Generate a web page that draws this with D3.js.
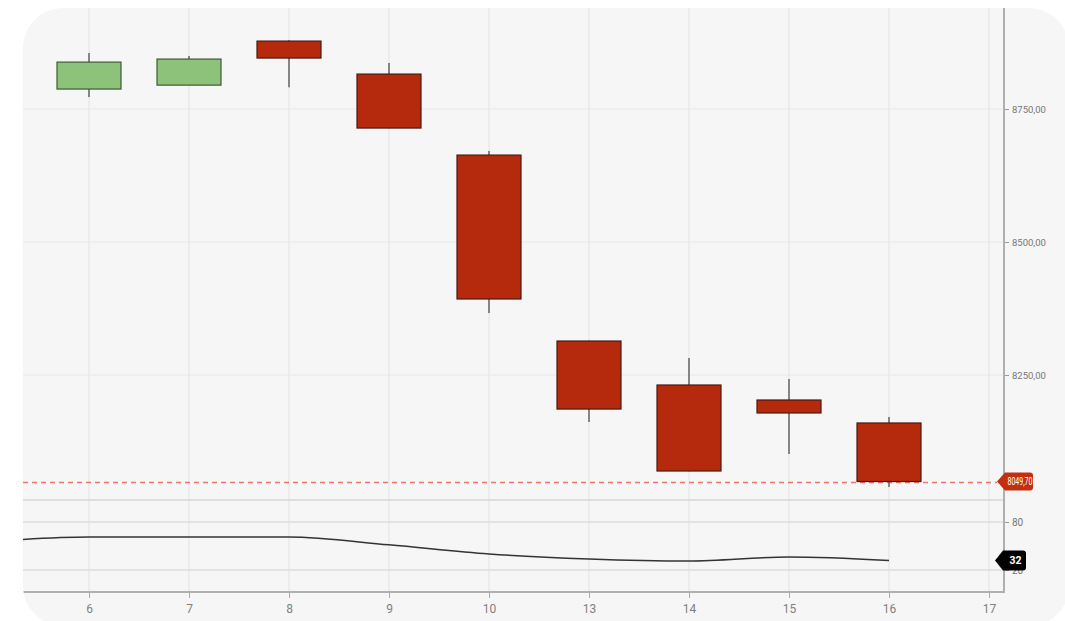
<!DOCTYPE html>
<html><head><meta charset="utf-8">
<script src="https://cdn.jsdelivr.net/npm/d3@7"></script>
<style>html,body{margin:0;padding:0;background:#fff;}svg{display:block;font-family:Roboto,"Noto Sans",sans-serif;}</style>
</head><body><svg id="c" width="1065" height="621"></svg>
<script>
// ---- data ----
const categories = ["6","7","8","9","10","13","14","15","16","17"];
const opens  = [8787.6, 8795.0, 8877.8, 8815.8, 8663.5, 8313.9, 8231.2, 8203.0, 8159.8];
const highs  = [8855.3, 8849.6, 8879.5, 8836.5, 8671.0, 8314.5, 8282.0, 8242.5, 8171.0];
const lows   = [8772.6, 8795.0, 8791.0, 8714.0, 8366.5, 8161.7, 8069.0, 8101.5, 8039.5];
const closes = [8838.3, 8844.0, 8845.9, 8714.3, 8392.9, 8186.0, 8069.5, 8178.6, 8049.7];
const priceTicks = [8250, 8500, 8750];
const indicatorPrior = 55.5;           // value of the session before "6"
const indicator = [61.2, 61.2, 61.2, 51.5, 40.0, 33.8, 31.3, 36.3, 32.0];
const indicatorTicks = [20, 80];

// ---- layout ----
const padL = 23, padR = 1004, padT = 8, mainBottom = 500, subBottom = 592;
const svg = d3.select("#c");

const x = d3.scaleLinear().domain([-0.66, 9.15]).range([padL, padR]);
const y = d3.scaleLinear().domain([8015, 8940]).range([mainBottom, padT]);
const yi = d3.scaleLinear().domain([-7.5, 107.5]).range([subBottom, mainBottom]);

const fmt = v => d3.format(".2f")(v).replace(".", ",");

// card
svg.append("defs").append("clipPath").attr("id","card")
  .append("rect").attr("x",padL).attr("y",padT).attr("width",1046).attr("height",618).attr("rx",40);
svg.append("rect").attr("x",padL).attr("y",padT).attr("width",1046).attr("height",618).attr("rx",40).attr("fill","#f6f6f6");

const g = svg.append("g").attr("clip-path","url(#card)");

// vertical grid
g.selectAll(".vg").data(categories).join("line")
  .attr("x1",(d,i)=>x(i)).attr("x2",(d,i)=>x(i)).attr("y1",padT).attr("y2",subBottom)
  .attr("stroke","#e3e3e3").attr("stroke-width",1);

// horizontal grid main
g.selectAll(".hg").data(priceTicks).join("line")
  .attr("x1",padL).attr("x2",padR).attr("y1",d=>y(d)).attr("y2",d=>y(d))
  .attr("stroke","#e8e8e8").attr("stroke-width",1);

// panel separator
g.append("line").attr("x1",padL).attr("x2",padR).attr("y1",mainBottom).attr("y2",mainBottom)
  .attr("stroke","#d6d6d6").attr("stroke-width",1.5);

// indicator grid
g.selectAll(".ig").data(indicatorTicks).join("line")
  .attr("x1",padL).attr("x2",padR).attr("y1",d=>yi(d)).attr("y2",d=>yi(d))
  .attr("stroke","#dcdcdc").attr("stroke-width",1.5);

// dashed last-price line
const last = closes[closes.length-1];
g.append("line").attr("x1",padL).attr("x2",997).attr("y1",Math.round(y(last))+0.5).attr("y2",Math.round(y(last))+0.5)
  .attr("stroke","#ec7468").attr("stroke-width",1.3).attr("stroke-dasharray","5,4");

// candles
const candles = opens.map((o,i)=>({i,o,h:highs[i],l:lows[i],c:closes[i]}));
const bw = 64;
g.selectAll(".wick").data(candles).join("line")
  .attr("x1",d=>x(d.i)).attr("x2",d=>x(d.i)).attr("y1",d=>y(d.h)).attr("y2",d=>y(d.l))
  .attr("stroke","#6b6b6b").attr("stroke-width",1.6);
g.selectAll(".body").data(candles).join("rect")
  .attr("x",d=>x(d.i)-bw/2).attr("width",bw)
  .attr("y",d=>y(Math.max(d.o,d.c))).attr("height",d=>Math.max(1,Math.abs(y(d.o)-y(d.c))))
  .attr("fill",d=>d.c>=d.o?"#8cc27a":"#b5290d")
  .attr("stroke",d=>d.c>=d.o?"#3f5a35":"#4a1a10").attr("stroke-width",1.2);

// indicator line
const indPts = [[-1,indicatorPrior]].concat(indicator.map((v,i)=>[i,v]));
g.append("path").datum(indPts)
  .attr("d", d3.line().x(d=>x(d[0])).y(d=>yi(d[1])).curve(d3.curveMonotoneX))
  .attr("fill","none").attr("stroke","#333").attr("stroke-width",1.5);

// axes lines
g.append("line").attr("x1",padR).attr("x2",padR).attr("y1",padT).attr("y2",subBottom)
  .attr("stroke","#b0b0b0").attr("stroke-width",2);
g.append("line").attr("x1",padL).attr("x2",padR+1).attr("y1",subBottom).attr("y2",subBottom)
  .attr("stroke","#b0b0b0").attr("stroke-width",2);

// x axis
const xAxis = d3.axisBottom(x).tickValues(d3.range(categories.length)).tickFormat(i=>categories[i]).tickSize(5).tickPadding(6);
const xa = g.append("g").attr("transform",`translate(0,${subBottom+1})`).call(xAxis);
xa.select(".domain").remove();
xa.selectAll("line").attr("stroke","#aaa");
xa.selectAll("text").attr("fill","#808080").attr("font-size",12).attr("font-family","Roboto");

// right price axis
const ya = g.append("g").attr("transform",`translate(${padR+1},0)`)
  .call(d3.axisRight(y).tickValues(priceTicks).tickFormat(fmt).tickSize(4).tickPadding(3));
ya.select(".domain").remove();
ya.selectAll("line").attr("stroke","#999");
ya.selectAll("text").attr("fill","#777").attr("font-size",9.5).attr("font-family","Roboto");

const yia = g.append("g").attr("transform",`translate(${padR+1},0)`)
  .call(d3.axisRight(yi).tickValues(indicatorTicks).tickSize(4).tickPadding(3));
yia.select(".domain").remove();
yia.selectAll("line").attr("stroke","#999");
yia.selectAll("text").attr("fill","#777").attr("font-size",10).attr("font-family","Roboto");

// badges
function badge(cy, x0, x1, h, fill, label, fs, weight, tl){
  const r = 3, tip = 8;
  const p = d3.path();
  p.moveTo(x0, cy);
  p.lineTo(x0+tip, cy-h/2);
  p.lineTo(x1-r, cy-h/2);
  p.quadraticCurveTo(x1, cy-h/2, x1, cy-h/2+r);
  p.lineTo(x1, cy+h/2-r);
  p.quadraticCurveTo(x1, cy+h/2, x1-r, cy+h/2);
  p.lineTo(x0+tip, cy+h/2);
  p.closePath();
  g.append("path").attr("d",p.toString()).attr("fill",fill);
  const t = g.append("text").attr("x",(x0+tip+x1)/2 + 1).attr("y",cy).attr("dy","0.35em")
    .attr("text-anchor","middle").attr("fill","#fff").attr("font-size",fs)
    .attr("font-weight",weight).attr("font-family","Roboto").text(label);
  if (tl) t.attr("textLength",tl).attr("lengthAdjust","spacingAndGlyphs");
}
badge(y(last), 997, 1033, 18, "#c3300f", fmt(last), 10, 400, 25);
const lastInd = indicator[indicator.length-1];
badge(yi(lastInd), 995, 1026, 20, "#000", String(Math.round(lastInd)), 11.5, 700, 12);
</script></body></html>
